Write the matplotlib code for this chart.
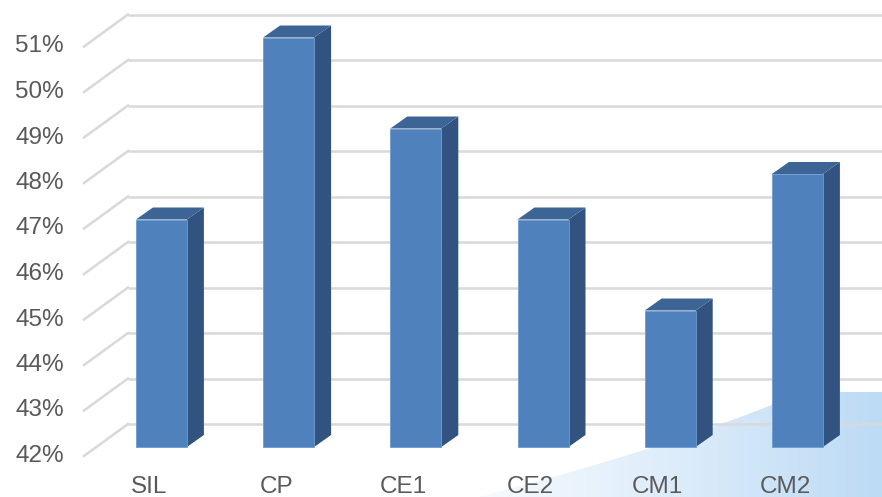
import numpy as np
import matplotlib.pyplot as plt
from matplotlib.patches import Polygon
from matplotlib.colors import LinearSegmentedColormap

# data
categories = ['SIL', 'CP', 'CE1', 'CE2', 'CM1', 'CM2']
values = [47, 51, 49, 47, 45, 48]
y_ticks = list(range(42, 52))
y_tick_labels = [f'{t}%' for t in y_ticks]

# pixel scale of the oblique 3D look (100 dpi figure)
PX_CAT = 127.2      # pixels per category
PX_PCT = 45.5       # pixels per percent
BACK_X0 = 193.0     # pixel x of first category on back wall
BACK_Y42 = 424.0    # pixel y (from top) of 42% on back wall
W, H = 882, 497


def px_dx(p):
    return p / PX_CAT


def px_dy(p):
    return p / PX_PCT


fig = plt.figure(figsize=(W / 100, H / 100), dpi=100)
ax = fig.add_axes([0, 0, 1, 1])
ax.set_xlim(-BACK_X0 / PX_CAT, (W - BACK_X0) / PX_CAT)
ax.set_ylim(42 - (H - BACK_Y42) / PX_PCT, 42 + BACK_Y42 / PX_PCT)
ax.axis('off')

x0, x1 = ax.get_xlim()
y0, y1 = ax.get_ylim()

# light blue swoosh in the lower right corner
def to_data(px, py):
    return x0 + px / PX_CAT, y1 - py / PX_PCT

t = np.linspace(0, 1, 60)
p0, pc, p2 = np.array([478, 497]), np.array([700, 440]), np.array([830, 380])
curve = ((1 - t)[:, None] ** 2) * p0 + (2 * (1 - t) * t)[:, None] * pc + (t ** 2)[:, None] * p2
curve = curve[curve[:, 1] >= 392]
pts = [(478, 497)] + [tuple(c) for c in curve]
last = curve[-1]
pts += [(last[0] + (last[1] - 392) / 0.5, 392), (W, 392), (W, H)]
swoosh_xy = [to_data(px, py) for px, py in pts]
swoosh = Polygon(swoosh_xy, closed=True, facecolor='none', edgecolor='none')
ax.add_patch(swoosh)
cmap = LinearSegmentedColormap.from_list('sw', ['#f7fbfe', '#dcecfa', '#bcdbf5'])
grad = np.linspace(0, 1, 256).reshape(1, -1)
sx0, sy_bot = to_data(478, H)
sx1, sy_top = to_data(W, 392)
im = ax.imshow(grad, cmap=cmap, extent=[sx0, sx1, sy_bot, sy_top],
               aspect='auto', zorder=0, interpolation='bicubic')
im.set_clip_path(swoosh)
ax.set_xlim(x0, x1)
ax.set_ylim(y0, y1)

# gridlines: back wall + diagonal to the front
grid_col = '#d9d9d9'
wall_left = px_dx(128 - BACK_X0)
for v in y_ticks:
    ax.plot([wall_left, x1], [v, v], color=grid_col, lw=1.8, zorder=1,
            solid_capstyle='butt')
    ax.plot([wall_left, wall_left - px_dx(44)], [v, v - px_dy(32)],
            color=grid_col, lw=1.8, zorder=1)

# bars
front_col = '#4f81bd'
top_col = '#3c6595'
side_col = '#32537f'
bar_w = px_dx(51)
shift_x, shift_y = px_dx(-31.6), px_dy(-23)
depth_x, depth_y = px_dx(17), px_dy(12)
base = 42

for i, val in enumerate(values):
    cx = i + shift_x
    xl, xr = cx - bar_w / 2, cx + bar_w / 2
    yb, yt = base + shift_y, val + shift_y
    side = [(xr, yb), (xr, yt), (xr + depth_x, yt + depth_y), (xr + depth_x, yb + depth_y)]
    top = [(xl, yt), (xr, yt), (xr + depth_x, yt + depth_y), (xl + depth_x, yt + depth_y)]
    ax.add_patch(Polygon(side, closed=True, facecolor=side_col, edgecolor='none', zorder=2))
    ax.add_patch(Polygon(top, closed=True, facecolor=top_col, edgecolor='none', zorder=2))
    ax.add_patch(Polygon([(xl, yb), (xr, yb), (xr, yt), (xl, yt)], closed=True,
                         facecolor=front_col, edgecolor='#6f9bd0', lw=0.6, zorder=3))

# tick labels on the front plane
font = dict(family=['Liberation Sans', 'DejaVu Sans'], size=17.5, color='#595959')
for v, lab in zip(y_ticks, y_tick_labels):
    ax.text(x0 + px_dx(64), v - px_dy(32), lab, ha='right', va='center', **font)

cat_y = 42 - px_dy(487 - BACK_Y42)
for i, cat in enumerate(categories):
    ax.text(i - px_dx(44), cat_y, cat, ha='center', va='center', **font)

fig.savefig('out.png', dpi=100, facecolor='white')
